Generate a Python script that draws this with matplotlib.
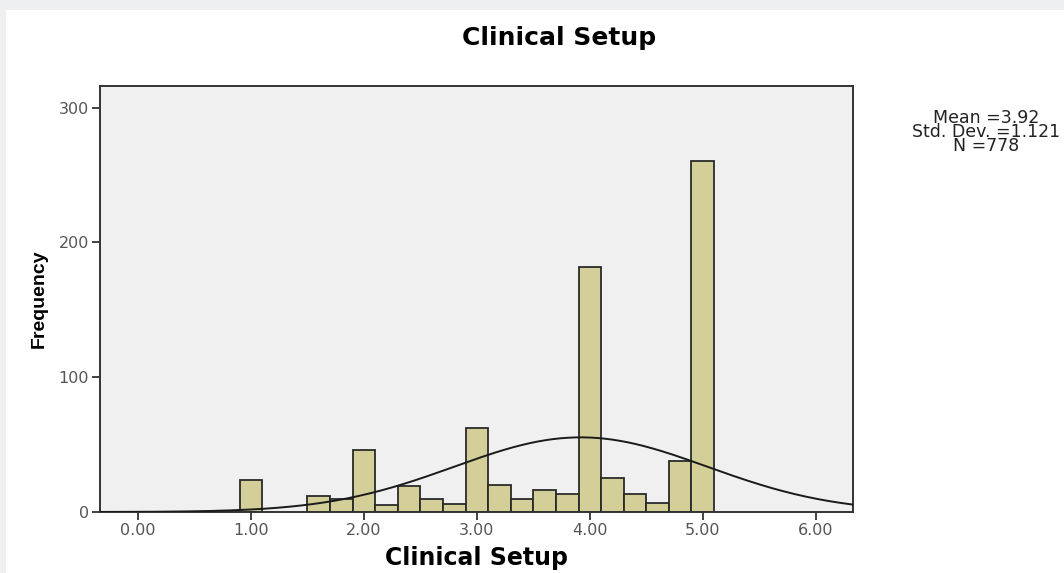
import numpy as np
import matplotlib.pyplot as plt
from matplotlib.patches import Rectangle

plt.rcParams['font.family'] = ['DejaVu Sans']

# histogram bins (centre of each 0.2-wide bin) and counts
bin_centers = [1.0, 1.6, 1.8, 2.0, 2.2, 2.4, 2.6, 2.8, 3.0, 3.2, 3.4,
               3.6, 3.8, 4.0, 4.2, 4.4, 4.6, 4.8, 5.0]
counts = [24, 12, 10, 46, 5, 19, 10, 6, 62, 20, 10,
          16, 13, 182, 25, 13, 7, 38, 260]
bin_width = 0.2

mean = 3.92
std_dev = 1.121
n_total = 778

x_ticks = [0, 1, 2, 3, 4, 5, 6]
y_ticks = [0, 100, 200, 300]

fig = plt.figure(figsize=(10.64, 5.73), dpi=100)
fig.patch.set_facecolor('white')
# grey strip at top and left, like the screenshot
fig.patches.append(Rectangle((0, 0), 1, 1, transform=fig.transFigure,
                             facecolor='#eeeff1', edgecolor='none', zorder=-10))
fig.patches.append(Rectangle((6 / 1064, 0), 1, 1 - 10 / 573, transform=fig.transFigure,
                             facecolor='white', edgecolor='none', zorder=-9))

ax = fig.add_axes([100 / 1064, 1 - 512 / 573, 753 / 1064, 426 / 573])
ax.set_facecolor('#f0f0f0')

ax.bar(bin_centers, counts, width=bin_width, color='#d4cf98',
       edgecolor='#2a2a2a', linewidth=1.3, zorder=2)

xs = np.linspace(-0.34, 6.33, 400)
curve = n_total * bin_width / (std_dev * np.sqrt(2 * np.pi)) * np.exp(-0.5 * ((xs - mean) / std_dev) ** 2)
ax.plot(xs, curve, color='#1a1a1a', linewidth=1.4, zorder=3)

ax.set_xlim(-0.336, 6.33)
ax.set_ylim(0, 316)
ax.set_xticks(x_ticks)
ax.set_xticklabels([f'{t:.2f}' for t in x_ticks])
ax.set_yticks(y_ticks)
ax.tick_params(direction='out', length=6, width=1.3, color='#333333',
               labelsize=11.5, labelcolor='#555555', pad=2)
for spine in ax.spines.values():
    spine.set_linewidth(1.4)
    spine.set_color('#333333')

ax.set_xlabel('Clinical Setup', fontsize=17, fontweight='bold', labelpad=6)
ax.set_ylabel('Frequency', fontsize=14, fontweight='bold', labelpad=8,
              family=['Liberation Sans Narrow', 'Liberation Sans'])

fig.text(559 / 1064, 1 - 38 / 573, 'Clinical Setup', fontsize=18, fontweight='bold',
         ha='center', va='center')
fig.text(986 / 1064, 1 - 132 / 573,
         f'Mean ={mean:.2f}\nStd. Dev. ={std_dev:.3f}\nN ={n_total}',
         fontsize=12.5, ha='center', va='center', linespacing=0.72, color='#222222')

fig.savefig('out.png', dpi=100)
